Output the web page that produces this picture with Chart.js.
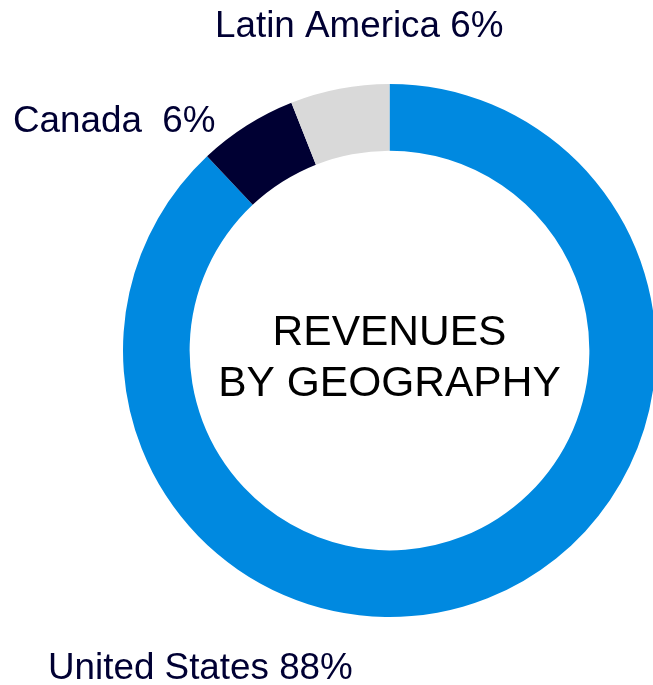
<!DOCTYPE html>
<html>
<head>
<meta charset="utf-8">
<script src="https://cdn.jsdelivr.net/npm/chart.js@4/dist/chart.umd.min.js"></script>
<style>
  html, body { margin: 0; padding: 0; background: #ffffff; overflow: hidden; width: 653px; height: 685px; }
  #wrap { position: absolute; left: 0; top: 0; width: 700px; height: 685px; }
</style>
</head>
<body>
<div id="wrap"><canvas id="c" width="700" height="685"></canvas></div>
<script>
const categories = ['United States', 'Canada', 'Latin America'];
const values = [88, 6, 6];
const labelTexts = ['United States 88%', 'Canada  6%', 'Latin America 6%'];
const colors = ['#0089E0', '#000033', '#D9D9D9'];
const centerLines = ['REVENUES', 'BY GEOGRAPHY'];

const labelPlugin = {
  id: 'labelPlugin',
  afterDraw(chart) {
    const ctx = chart.ctx;
    ctx.save();
    ctx.textBaseline = 'alphabetic';
    ctx.textAlign = 'left';
    ctx.fillStyle = '#000033';
    ctx.font = '36.8px "Liberation Sans", Arial, sans-serif';
    const pos = [[48, 679], [13, 132], [215, 37]];
    labelTexts.forEach((t, i) => ctx.fillText(t, pos[i][0], pos[i][1]));
    const meta = chart.getDatasetMeta(0);
    const arc = meta.data[0];
    ctx.fillStyle = '#000000';
    ctx.textAlign = 'center';
    ctx.font = '42.5px "Liberation Sans", Arial, sans-serif';
    ctx.fillText(centerLines[0], arc.x, arc.y - 6);
    ctx.fillText(centerLines[1], arc.x, arc.y + 45);
    ctx.restore();
  }
};

new Chart(document.getElementById('c'), {
  type: 'doughnut',
  data: {
    labels: categories,
    datasets: [{
      data: values,
      backgroundColor: colors,
      borderWidth: 0,
      hoverOffset: 0,
      offset: 0
    }]
  },
  options: {
    responsive: false,
    animation: false,
    events: [],
    cutout: '75%',
    layout: { padding: { left: 123, top: 84, right: 44, bottom: 68 } },
    plugins: { legend: { display: false }, tooltip: { enabled: false } }
  },
  plugins: [labelPlugin]
});
</script>
</body>
</html>
